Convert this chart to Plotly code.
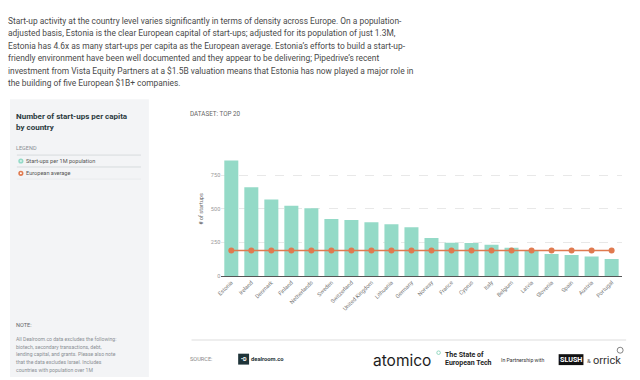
import plotly.graph_objects as go

countries = ["Estonia", "Ireland", "Denmark", "Finland", "Netherlands", "Sweden",
             "Switzerland", "United Kingdom", "Lithuania", "Germany", "Norway", "France",
             "Cyprus", "Italy", "Belgium", "Latvia", "Slovenia", "Spain", "Austria", "Portugal"]
startups_per_1m = [860, 661, 570, 524, 504, 425, 418, 401, 386, 364,
                   283, 248, 246, 233, 211, 192, 165, 157, 145, 128]
european_average = 190
y_ticks = [0, 250, 500, 750]

paragraph = [
    "Start-up activity at the country level varies significantly in terms of density across Europe. On a population-",
    "adjusted basis, Estonia is the clear European capital of start-ups; adjusted for its population of just 1.3M,",
    "Estonia has 4.6x as many start-ups per capita as the European average. Estonia\u2019s efforts to build a start-up-",
    "friendly environment have been well documented and they appear to be delivering; Pipedrive\u2019s recent",
    "investment from Vista Equity Partners at a $1.5B valuation means that Estonia has now played a major role in",
    "the building of five European $1B+ companies.",
]
note_lines = [
    "All Dealroom.co data excludes the following:",
    "biotech, secondary transactions, debt,",
    "lending capital, and grants. Please also note",
    "that the data excludes Israel. Includes",
    "countries with population over 1M",
]

W, H = 640, 380
def px(x): return x / W
def py(y): return 1 - y / H

BAR = "#94dac7"
ORANGE = "#e07a4f"
FONT = "Roboto"
DX = -3  # compensation for annotation text inset

fig = go.Figure()
fig.add_trace(go.Bar(x=countries, y=startups_per_1m, marker=dict(color=BAR, line=dict(width=0)),
                     name="Start-ups per 1M population"))
fig.add_trace(go.Scatter(x=countries, y=[european_average] * len(countries), mode="lines+markers",
                         line=dict(color=ORANGE, width=1.5), marker=dict(color=ORANGE, size=6),
                         name="European average"))

shapes = []
ann = []

def text(x, y, s, size, color="#555", bold=False, xanchor="left", family=FONT, angle=0):
    if bold:
        s = "<b>" + s + "</b>"
    if xanchor == "left":
        x = x + DX
    ann.append(dict(x=px(x), y=py(y), xref="paper", yref="paper", text=s, showarrow=False,
                    xanchor=xanchor, yanchor="middle", textangle=angle, borderpad=0,
                    font=dict(size=size, color=color, family=family)))

# paragraph
for i, line in enumerate(paragraph):
    text(5, 20.7 + i * 12.65, line, 8.4, "#4a4a4a", family="Liberation Sans Narrow, Roboto")

# left panel
shapes.append(dict(type="rect", xref="paper", yref="paper", x0=px(5), x1=px(145), y0=py(380), y1=py(100),
                   fillcolor="#f3f4f6", line=dict(width=0), layer="below"))
text(13, 117.5, "Number of start-ups per capita", 8, "#2b3a40", bold=True)
text(13, 128.5, "by country", 8, "#2b3a40", bold=True)
text(13, 149.5, "LEGEND", 5.5, "#8a8f94")
for yy in (156.3, 168.3):
    shapes.append(dict(type="line", xref="paper", yref="paper", x0=px(12), x1=px(137), y0=py(yy), y1=py(yy),
                       line=dict(color="#cfd3d7", width=0.8)))
shapes.append(dict(type="line", xref="paper", yref="paper", x0=px(12), x1=px(137), y0=py(180.5), y1=py(180.5),
                   line=dict(color="#e6e8ea", width=0.8)))
# legend icons
def circle(cx, cy, r, fill, line_color=None, lw=0):
    shapes.append(dict(type="circle", xref="paper", yref="paper", x0=px(cx - r), x1=px(cx + r),
                       y0=py(cy + r), y1=py(cy - r), fillcolor=fill,
                       line=dict(color=line_color or fill, width=lw)))
circle(16, 162.3, 2.6, BAR)
circle(16, 162.3, 1.1, "#d9f2ea")
circle(16, 174.7, 2.6, ORANGE)
circle(16, 174.7, 1.0, "#ffffff")
text(23.5, 162.3, "Start-ups per 1M population", 5.6, "#555")
text(23.5, 174.7, "European average", 5.6, "#555")

text(13, 327.3, "NOTE:", 5.6, "#666")
for i, line in enumerate(note_lines):
    text(13, 341.7 + i * 7.75, line, 5.1, "#8a8f94")

# chart header
text(188, 115.3, "DATASET: TOP 20", 6.3, "#666")
text(198, 210, "# of startups", 5.5, "#666", xanchor="center", angle=-90)

# footer
shapes.append(dict(type="line", xref="paper", yref="paper", x0=px(188), x1=px(626), y0=py(342.7), y1=py(342.7),
                   line=dict(color="#e8e8e8", width=1.5)))
text(188, 362.3, "SOURCE:", 5.6, "#888")
shapes.append(dict(type="rect", xref="paper", yref="paper", x0=px(235), x1=px(246), y0=py(367.5), y1=py(356.5),
                   fillcolor="#1f3439", line=dict(width=0)))
text(240.5, 362.3, "\u2022D", 5.5, "#ffffff", bold=True, xanchor="center")
text(250, 362.3, "dealroom.co", 5.8, "#1f3439", bold=True)
text(373, 363.5, "atomico", 15.5, "#1d1d1d", family="Inter")
circle(437, 355.5, 1.8, "rgba(0,0,0,0)", "#7ccfb3", 0.8)
text(445, 357.5, "The State of", 7, "#1d1d1d", bold=True)
text(445, 365.5, "European Tech", 7, "#1d1d1d", bold=True)
text(502, 362.8, "In Partnership with", 5.2, "#333")
shapes.append(dict(type="rect", xref="paper", yref="paper", x0=px(558), x1=px(583), y0=py(368), y1=py(357),
                   fillcolor="#111111", line=dict(width=0)))
text(570.5, 362.5, "SLUSH", 7.2, "#ffffff", bold=True, xanchor="center")
text(589, 363, "&", 6, "#444")
text(595, 363, "orrick", 11, "#333")
circle(620, 353, 3, "rgba(0,0,0,0)", "#666", 0.8)

fig.update_layout(
    width=W, height=H, margin=dict(l=0, r=0, t=0, b=0),
    paper_bgcolor="white", plot_bgcolor="white",
    showlegend=False, bargap=0.3,
    font=dict(family=FONT, color="#777"),
    shapes=shapes, annotations=ann,
    xaxis=dict(domain=[px(218), px(621.5)], range=[-0.5, 19.5], tickangle=-45,
               tickfont=dict(size=5.6, color="#777"), showline=True, linecolor="#555", linewidth=1,
               showgrid=False, ticks=""),
    yaxis=dict(domain=[py(278.3), py(149.6)], range=[0, 950], tickvals=y_ticks,
               tickfont=dict(size=5.6, color="#999"), showgrid=True, gridcolor="#e8e8e8",
               griddash="dash", gridwidth=1, zeroline=False, showline=False, ticks=""),
)

fig.write_html("out.html", config={"displayModeBar": False},
               post_script="document.body.style.margin='0';document.body.style.overflow='hidden';")
